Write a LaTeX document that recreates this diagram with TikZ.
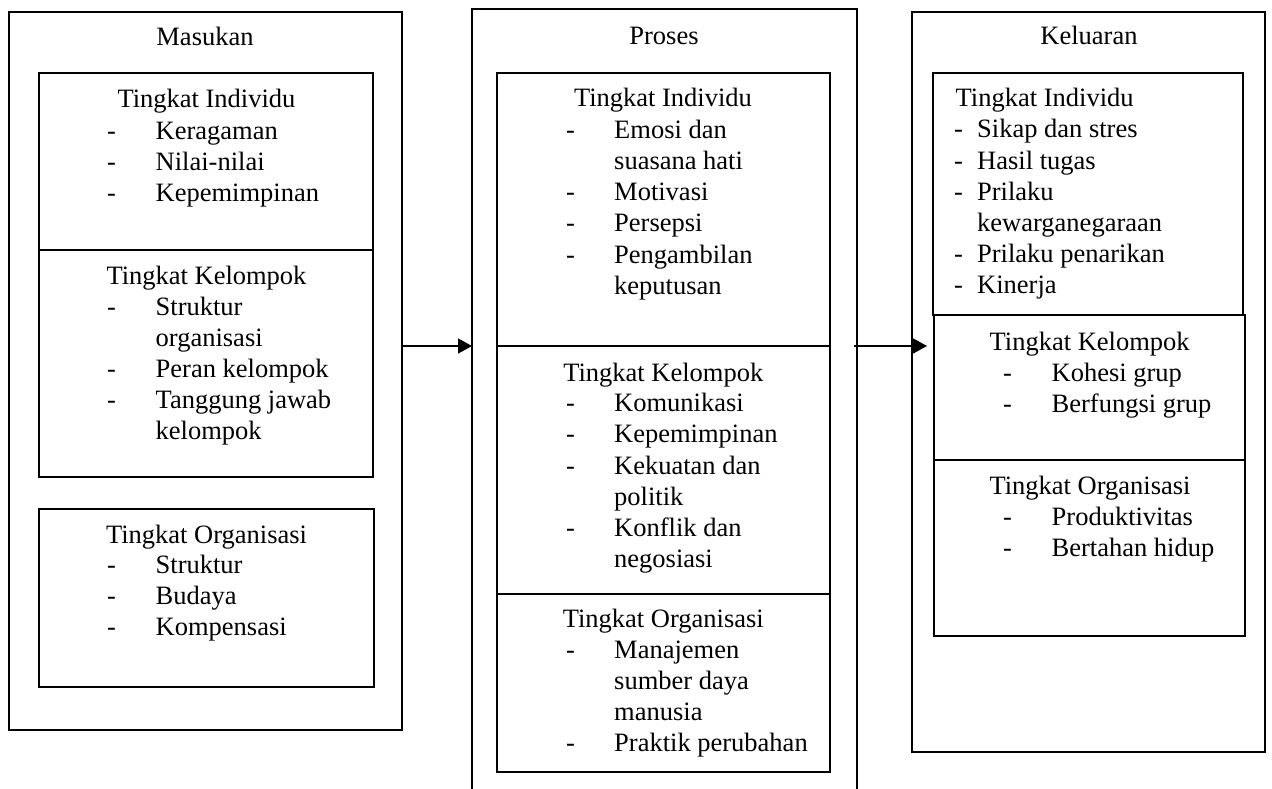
\documentclass[tikz,border=0pt]{standalone}
\usepackage{fontspec}
\setmainfont{Liberation Serif}
\usetikzlibrary{arrows.meta}
\newcommand\dlist[2]{\begin{tabular}[t]{@{}p{#1}@{}l@{}}#2\end{tabular}}
\begin{document}
\begin{tikzpicture}[x=1pt,y=-1pt,
  box/.style={draw, line width=1.2pt, rectangle, inner sep=0pt, outer sep=0pt, anchor=north west},
  txt/.style={inner sep=0pt, font=\fontsize{26.5}{31.2}\selectfont},
  ttl/.style={txt, anchor=base},
  lstn/.style={txt, anchor=base west},
  arr/.style={line width=1.6pt, -{Triangle[length=14pt,width=15pt]}}]
\useasboundingbox (0,0) rectangle (1272,789);

% ---------- Masukan ----------
\node[box, minimum width=393pt, minimum height=718pt] (m) at (9,12) {};
\node[box, minimum width=334pt, minimum height=177pt] (m1) at (39,73) {};
\node[box, minimum width=334pt, minimum height=227pt] (m2) at (39,250) {};
\node[box, minimum width=335pt, minimum height=178pt] (m3) at (39,509) {};
\node[ttl] (mt) at (205,46) {Masukan};
\node[ttl] (m1t) at (206.5,108) {Tingkat Individu};
\node[lstn] (m1l) at (107,139.5) {\dlist{48.5pt}{-&Keragaman\\-&Nilai-nilai\\-&Kepemimpinan}};
\node[ttl] (m2t) at (206.5,284) {Tingkat Kelompok};
\node[lstn] (m2l) at (107,315) {\dlist{48.5pt}{-&Struktur\\&organisasi\\-&Peran kelompok\\-&Tanggung jawab\\&kelompok}};
\node[ttl] (m3t) at (206.5,543) {Tingkat Organisasi};
\node[lstn] (m3l) at (107,573.5) {\dlist{48.5pt}{-&Struktur\\-&Budaya\\-&Kompensasi}};

% ---------- Proses ----------
\node[box, minimum width=385pt, minimum height=800pt] (p) at (472,9) {};
\node[box, minimum width=333pt, minimum height=273pt] (p1) at (497,73) {};
\node[box, minimum width=333pt, minimum height=248pt] (p2) at (497,346) {};
\node[box, minimum width=333pt, minimum height=178pt] (p3) at (497,594) {};
\node[ttl] (pt) at (664,44.5) {Proses};
\node[ttl] (p1t) at (663,107) {Tingkat Individu};
\node[lstn] (p1l) at (566,138.3) {\dlist{48pt}{-&Emosi dan\\&suasana hati\\-&Motivasi\\-&Persepsi\\-&Pengambilan\\&keputusan}};
\node[ttl] (p2t) at (663.3,381.7) {Tingkat Kelompok};
\node[lstn] (p2l) at (566,411.7) {\dlist{48pt}{-&Komunikasi\\-&Kepemimpinan\\-&Kekuatan dan\\&politik\\-&Konflik dan\\&negosiasi}};
\node[ttl] (p3t) at (663.3,627.7) {Tingkat Organisasi};
\node[lstn] (p3l) at (566,658) {\dlist{48pt}{-&Manajemen\\&sumber daya\\&manusia\\-&Praktik perubahan}};

% ---------- Keluaran ----------
\node[box, minimum width=353pt, minimum height=740pt] (k) at (912,12) {};
\node[box, minimum width=310pt, minimum height=242pt] (k1) at (933,73) {};
\node[box, minimum width=311pt, minimum height=145pt] (k2) at (934,315) {};
\node[box, minimum width=311pt, minimum height=176pt] (k3) at (934,460) {};
\node[ttl] (kt) at (1089,45) {Keluaran};
\node[lstn] (k1t) at (955.5,107) {Tingkat Individu};
\node[lstn] (k1l) at (954,138) {\dlist{23pt}{-&Sikap dan stres\\-&Hasil tugas\\-&Prilaku\\&kewarganegaraan\\-&Prilaku penarikan\\-&Kinerja}};
\node[ttl] (k2t) at (1089.7,350.7) {Tingkat Kelompok};
\node[lstn] (k2l) at (1003,381) {\dlist{48.5pt}{-&Kohesi grup\\-&Berfungsi grup}};
\node[ttl] (k3t) at (1090,494) {Tingkat Organisasi};
\node[lstn] (k3l) at (1003,525) {\dlist{48.5pt}{-&Produktivitas\\-&Bertahan hidup}};

% ---------- arrows ----------
\draw[arr] (p1.south west -| m.east) -- (p1.south west -| p.west);
\draw[arr, shorten <=-3pt, shorten >=7pt] (p1.south east -| p.east) -- (p1.south east -| k2.west);
\end{tikzpicture}
\end{document}
